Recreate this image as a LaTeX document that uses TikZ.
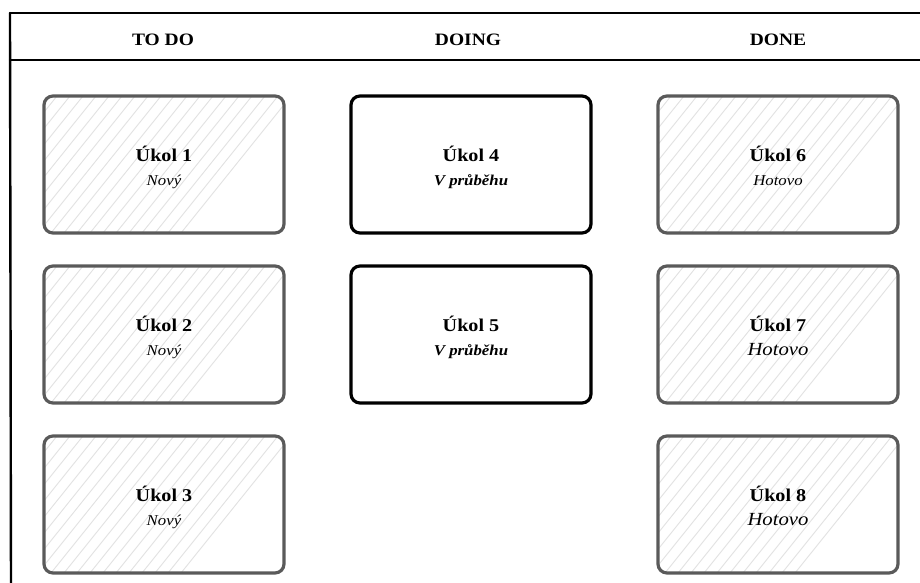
\documentclass[tikz,border=0pt]{standalone}
\usepackage{fontspec}
\setmainfont{Liberation Serif}[FakeStretch=1.12]
\begin{document}
\begin{tikzpicture}[x=1pt,y=-1pt,
  frameline/.style={line width=2.4pt, black, line cap=round},
  colhead/.style={font=\fontsize{17.4}{20}\selectfont\bfseries},
  card/.style={minimum width=240pt, minimum height=137pt, rounded corners=9pt,
    align=center, inner sep=0pt, line width=3.2pt, font=\fontsize{15}{24}\selectfont},
  hatch/.style={path picture={
    \foreach \i in {-9,...,19}{
      \draw[hatchgray, line width=0.9pt]
        ([xshift=\i*13pt-110pt]path picture bounding box.south west) -- ++(110pt,137pt);
    }}},
  donecard/.style={card, draw=cardgray, fill=white, hatch},
  doingcard/.style={card, draw=black, fill=white},
]
\definecolor{cardgray}{HTML}{5A5A5A}
\definecolor{hatchgray}{HTML}{E2E2E2}
% fixed struts keep both baselines at the same place in every card
\newcommand{\tasktitle}[1]{{\fontsize{18}{24}\selectfont\bfseries\rule{0pt}{24pt}#1}}
\newcommand{\taskstate}[1]{{\fontsize{15}{24}\selectfont\itshape #1\rule[-7pt]{0pt}{7pt}}}
\newcommand{\taskstatebig}[1]{{\fontsize{18.5}{24}\selectfont\itshape #1\rule[-7pt]{0pt}{7pt}}}
\newcommand{\taskactive}[1]{{\fontsize{15}{24}\selectfont\bfseries\itshape #1\rule[-7pt]{0pt}{7pt}}}
\useasboundingbox (0,0) rectangle (920,583);

% board frame: top edge, header divider, left edge
\coordinate (tl) at (10,13);
\coordinate (tr) at (925,13);
\coordinate (hl) at (10,60);
\coordinate (hr) at (925,60);
\coordinate (bl) at (11,590);
\draw[frameline] (tl) -- (tr);
\draw[frameline] (hl) -- (hr);
\draw[frameline] (tl) -- (bl);

% column headings
\node[colhead] (h1) at (163,40) {TO DO};
\node[colhead] (h2) at (468,40) {DOING};
\node[colhead] (h3) at (778,40) {DONE};

% TO DO column
\node[donecard] (u1) at (164,164.5) {\tasktitle{Úkol 1}\\\taskstate{Nový}};
\node[donecard] (u2) at (164,334.5) {\tasktitle{Úkol 2}\\\taskstate{Nový}};
\node[donecard] (u3) at (164,504.5) {\tasktitle{Úkol 3}\\\taskstate{Nový}};

% DOING column
\node[doingcard] (u4) at (471,164.5) {\tasktitle{Úkol 4}\\\taskactive{V průběhu}};
\node[doingcard] (u5) at (471,334.5) {\tasktitle{Úkol 5}\\\taskactive{V průběhu}};

% DONE column
\node[donecard] (u6) at (778,164.5) {\tasktitle{Úkol 6}\\\taskstate{Hotovo}};
\node[donecard] (u7) at (778,334.5) {\tasktitle{Úkol 7}\\\taskstatebig{Hotovo}};
\node[donecard] (u8) at (778,504.5) {\tasktitle{Úkol 8}\\\taskstatebig{Hotovo}};
\end{tikzpicture}
\end{document}
